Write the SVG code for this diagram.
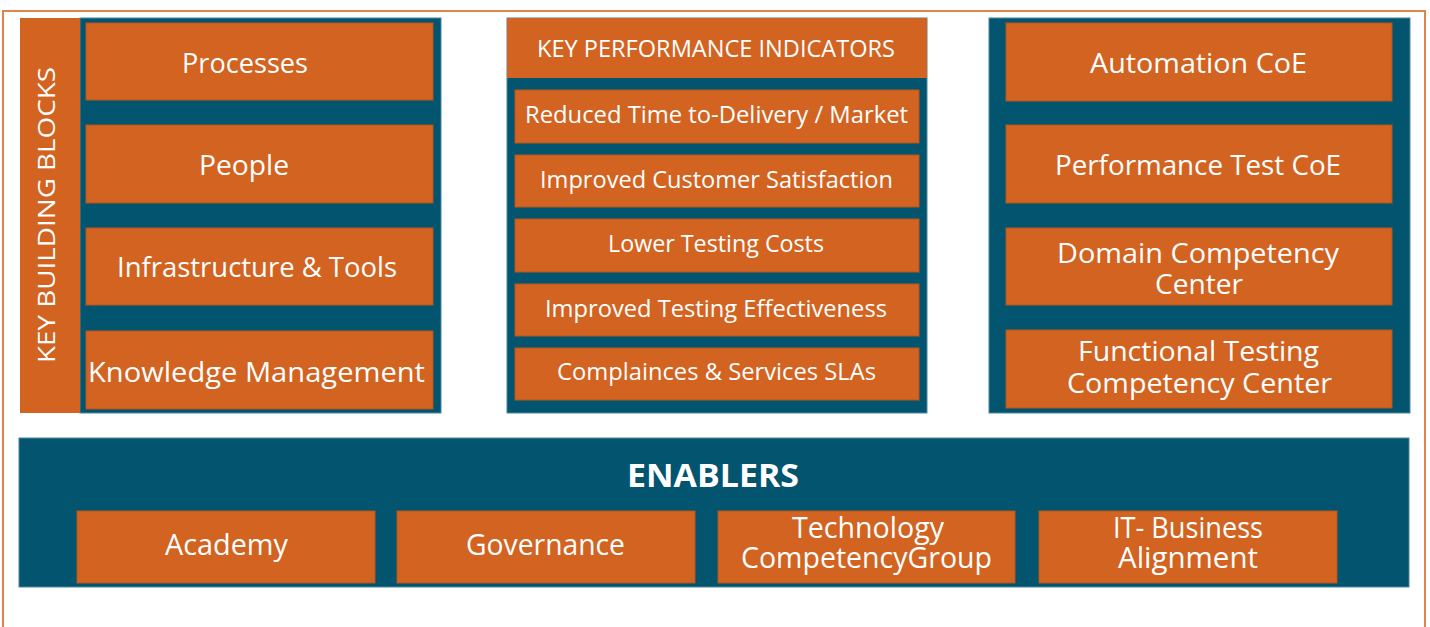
<svg xmlns="http://www.w3.org/2000/svg" width="1430" height="627" viewBox="0 0 1430 627">
<style>
.bg{fill:#ffffff}
.frame{fill:none;stroke:#e0844c;stroke-width:2}
.panel{fill:#03546f;stroke:#4d86a0;stroke-width:1}
.box{fill:#d36321;stroke:#b95419;stroke-width:1}
.strip{fill:#d36321}
.t{font-family:"Open Sans","Noto Sans","Liberation Sans",sans-serif;fill:#ffffff;text-anchor:start}
.l{font-size:28px}
.m{font-size:24px}
.s{font-size:29px}
.h{font-size:33px;font-weight:bold}
</style>
<rect class="bg" x="0" y="0" width="1430" height="627"/>
<rect class="frame" x="3" y="11" width="1422" height="700"/>

<g id="key-building-blocks">
  <rect class="panel" x="80" y="18" width="361" height="395"/>
  <rect class="strip" x="20" y="18" width="60" height="395"/>
  <text class="t m" transform="translate(55,363) rotate(-90)" x="0" y="0" textLength="296" lengthAdjust="spacingAndGlyphs">KEY BUILDING BLOCKS</text>
</g>
<g id="processes">
  <rect class="box" x="86" y="23" width="347" height="77"/>
  <text class="t l" x="182" y="73" textLength="126" lengthAdjust="spacingAndGlyphs">Processes</text>
</g>
<g id="people">
  <rect class="box" x="86" y="125" width="347" height="78"/>
  <text class="t l" x="199" y="175" textLength="90" lengthAdjust="spacingAndGlyphs">People</text>
</g>
<g id="infrastructure-tools">
  <rect class="box" x="86" y="228" width="347" height="77"/>
  <text class="t l" x="117" y="277" textLength="280" lengthAdjust="spacingAndGlyphs">Infrastructure &amp; Tools</text>
</g>
<g id="knowledge-management">
  <rect class="box" x="86" y="331" width="347" height="78"/>
  <text class="t l" x="88" y="382" textLength="337" lengthAdjust="spacingAndGlyphs">Knowledge Management</text>
</g>

<g id="kpi">
  <rect class="panel" x="507" y="18" width="420" height="395"/>
  <rect class="strip" x="507" y="18" width="420" height="60"/>
  <text class="t m" x="537" y="57" textLength="358" lengthAdjust="spacingAndGlyphs">KEY PERFORMANCE INDICATORS</text>
</g>
<g id="kpi-reduced-time">
  <rect class="box" x="515" y="90" width="404" height="53"/>
  <text class="t m" x="525" y="123" textLength="383" lengthAdjust="spacingAndGlyphs">Reduced Time to-Delivery / Market</text>
</g>
<g id="kpi-customer-satisfaction">
  <rect class="box" x="515" y="155" width="404" height="52"/>
  <text class="t m" x="540" y="188" textLength="353" lengthAdjust="spacingAndGlyphs">Improved Customer Satisfaction</text>
</g>
<g id="kpi-lower-costs">
  <rect class="box" x="515" y="219" width="404" height="53"/>
  <text class="t m" x="608" y="252" textLength="216" lengthAdjust="spacingAndGlyphs">Lower Testing Costs</text>
</g>
<g id="kpi-effectiveness">
  <rect class="box" x="515" y="284" width="404" height="52"/>
  <text class="t m" x="545" y="317" textLength="342" lengthAdjust="spacingAndGlyphs">Improved Testing Effectiveness</text>
</g>
<g id="kpi-compliances">
  <rect class="box" x="515" y="348" width="404" height="52"/>
  <text class="t m" x="557" y="380" textLength="319" lengthAdjust="spacingAndGlyphs">Complainces &amp; Services SLAs</text>
</g>

<g id="coe-panel">
  <rect class="panel" x="989" y="18" width="421" height="395"/>
</g>
<g id="automation-coe">
  <rect class="box" x="1006" y="23" width="386" height="78"/>
  <text class="t l" x="1090" y="73" textLength="217" lengthAdjust="spacingAndGlyphs">Automation CoE</text>
</g>
<g id="performance-test-coe">
  <rect class="box" x="1006" y="125" width="386" height="78"/>
  <text class="t l" x="1055" y="175" textLength="286" lengthAdjust="spacingAndGlyphs">Performance Test CoE</text>
</g>
<g id="domain-competency-center">
  <rect class="box" x="1006" y="228" width="386" height="77"/>
  <text class="t l" x="1057" y="263" textLength="282" lengthAdjust="spacingAndGlyphs">Domain Competency</text>
  <text class="t l" x="1155" y="294" textLength="88" lengthAdjust="spacingAndGlyphs">Center</text>
</g>
<g id="functional-testing-competency-center">
  <rect class="box" x="1006" y="330" width="386" height="78"/>
  <text class="t l" x="1078" y="361" textLength="241" lengthAdjust="spacingAndGlyphs">Functional Testing</text>
  <text class="t l" x="1067" y="393" textLength="265" lengthAdjust="spacingAndGlyphs">Competency Center</text>
</g>

<g id="enablers">
  <rect class="panel" x="19" y="438" width="1390" height="149"/>
  <text class="t h" x="627" y="487" textLength="172" lengthAdjust="spacingAndGlyphs">ENABLERS</text>
</g>
<g id="academy">
  <rect class="box" x="77" y="511" width="298" height="72"/>
  <text class="t s" x="165" y="555" textLength="123" lengthAdjust="spacingAndGlyphs">Academy</text>
</g>
<g id="governance">
  <rect class="box" x="397" y="511" width="298" height="72"/>
  <text class="t s" x="466" y="555" textLength="159" lengthAdjust="spacingAndGlyphs">Governance</text>
</g>
<g id="technology-competency-group">
  <rect class="box" x="718" y="511" width="297" height="72"/>
  <text class="t s" x="792" y="538" textLength="152" lengthAdjust="spacingAndGlyphs">Technology</text>
  <text class="t s" x="741" y="568" textLength="251" lengthAdjust="spacingAndGlyphs">CompetencyGroup</text>
</g>
<g id="it-business-alignment">
  <rect class="box" x="1039" y="511" width="298" height="72"/>
  <text class="t s" x="1113" y="538" textLength="150" lengthAdjust="spacingAndGlyphs">IT- Business</text>
  <text class="t s" x="1118" y="568" textLength="140" lengthAdjust="spacingAndGlyphs">Alignment</text>
</g>
<g id="connectors"></g>
</svg>
